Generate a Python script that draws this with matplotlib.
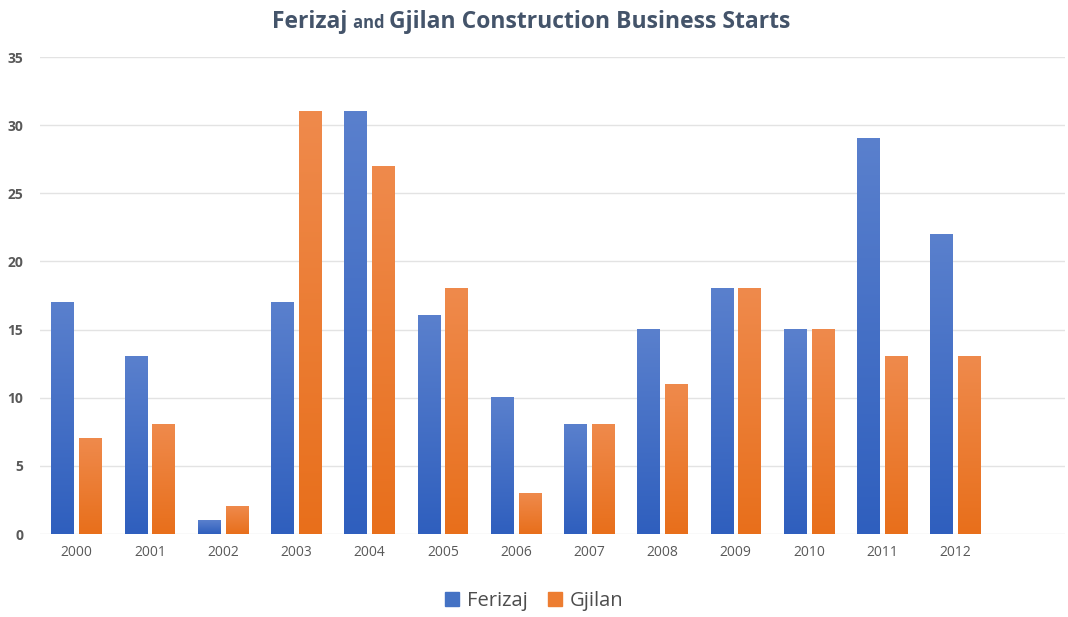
import numpy as np
import matplotlib
matplotlib.use('Agg')
import matplotlib.pyplot as plt
from matplotlib.colors import LinearSegmentedColormap
from matplotlib.patches import Patch

# Data
years = ['2000', '2001', '2002', '2003', '2004', '2005', '2006',
         '2007', '2008', '2009', '2010', '2011', '2012']
ferizaj = [17, 13, 1, 17, 31, 16, 10, 8, 15, 18, 15, 29, 22]
gjilan = [7, 8, 2, 31, 27, 18, 3, 8, 11, 18, 15, 13, 13]

plt.rcParams['font.family'] = ['Open Sans', 'DejaVu Sans']

blue_map = LinearSegmentedColormap.from_list('b', ['#2f5fbe', '#5a80cd'])
orange_map = LinearSegmentedColormap.from_list('o', ['#e86f1b', '#ef8a4c'])
grad = np.linspace(0, 1, 256).reshape(-1, 1)

fig = plt.figure(figsize=(10.68, 6.17), dpi=100)
ax = fig.add_axes([0.0375, 0.1345, 0.96, 0.7731])

x = np.arange(len(years))
w = 0.31
off = 0.19

# plain bars first, then gradient fill on top
b1 = ax.bar(x - off, ferizaj, w, color='#4472c4', zorder=2)
b2 = ax.bar(x + off, gjilan, w, color='#ed7d31', zorder=2)
for bars, cmap in ((b1, blue_map), (b2, orange_map)):
    for r in bars:
        x0, h = r.get_x(), r.get_height()
        ax.imshow(grad, extent=[x0, x0 + r.get_width(), 0, h], origin='lower',
                  aspect='auto', cmap=cmap, zorder=3)

ax.set_xlim(-0.5, 13.5)
ax.set_ylim(0, 35)
ax.set_yticks(range(0, 36, 5))
ax.set_xticks(x)
ax.set_xticklabels(years)
ax.grid(axis='y', color='#e3e3e3', linewidth=1, zorder=0)
ax.set_axisbelow(True)
for s in ax.spines.values():
    s.set_visible(False)
ax.tick_params(length=0)
ax.tick_params(axis='x', labelsize=10, labelcolor='#595959', pad=8)
ax.tick_params(axis='y', labelsize=10, labelcolor='#595959', pad=12)
for t in ax.get_yticklabels():
    t.set_fontweight('bold')

# title with a smaller "and"
tc = '#44546a'
fig.canvas.draw()
r = fig.canvas.get_renderer()
parts = [('Ferizaj ', 16.5), ('and ', 12), ('Gjilan Construction Business Starts', 16.5)]
texts = []
tot = 0
for s, fs in parts:
    t = fig.text(0, 0, s, fontsize=fs, fontweight='bold', color=tc)
    tot += t.get_window_extent(r).width
    texts.append(t)
xpix = 531 - tot / 2
for t in texts:
    t.set_position((xpix / 1068, 1 - 28 / 617))
    xpix += t.get_window_extent(r).width

handles = [Patch(color='#4472c4', label='Ferizaj'), Patch(color='#ed7d31', label='Gjilan')]
fig.legend(handles=handles, loc='center', bbox_to_anchor=(0.5, 1 - 601 / 617), ncol=2,
           frameon=False, fontsize=14.5, handlelength=0.7, handleheight=0.7,
           handletextpad=0.4, columnspacing=1.0, labelcolor='#4d4d4d')

plt.savefig('out.png', dpi=100)
